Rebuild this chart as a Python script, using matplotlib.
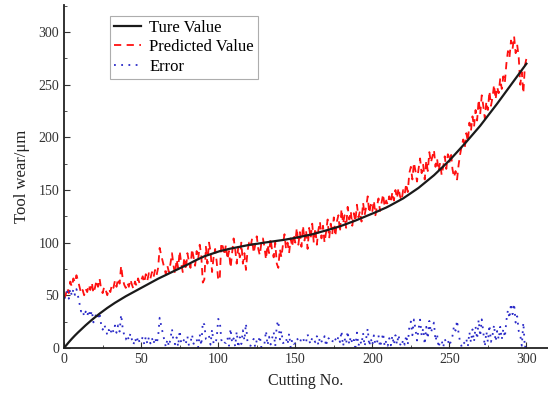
import matplotlib
matplotlib.use("Agg")
import matplotlib.pyplot as plt
from matplotlib.ticker import MultipleLocator
import numpy as np

plt.rcParams['font.family'] = ['Liberation Serif', 'DejaVu Serif']

# cutting number 0..300
cut_no = np.arange(0, 301)

# measured tool wear (um), one value per cut
true_wear = [
    0.0, 1.8, 3.6, 5.3, 7.0, 8.6, 10.2, 11.7, 13.2, 14.6,
    16.0, 17.4, 18.8, 20.2, 21.5, 22.8, 24.1, 25.3, 26.6, 27.8,
    29.0, 30.2, 31.3, 32.5, 33.6, 34.7, 35.8, 36.8, 37.9, 38.9,
    40.0, 41.0, 41.9, 42.8, 43.7, 44.6, 45.5, 46.4, 47.3, 48.1,
    49.0, 49.8, 50.6, 51.4, 52.2, 53.0, 53.8, 54.6, 55.4, 56.2,
    57.0, 57.8, 58.6, 59.4, 60.2, 61.0, 61.8, 62.6, 63.4, 64.2,
    65.0, 65.7, 66.4, 67.1, 67.8, 68.5, 69.2, 69.9, 70.6, 71.3,
    72.0, 72.7, 73.4, 74.1, 74.8, 75.5, 76.2, 76.9, 77.6, 78.3,
    79.0, 79.8, 80.6, 81.4, 82.1, 82.9, 83.6, 84.4, 85.1, 85.8,
    86.5, 87.0, 87.5, 88.0, 88.5, 89.0, 89.5, 90.0, 90.5, 91.0,
    91.5, 91.9, 92.2, 92.6, 92.9, 93.3, 93.6, 94.0, 94.3, 94.7,
    95.0, 95.3, 95.6, 95.8, 96.1, 96.4, 96.7, 97.0, 97.2, 97.5,
    97.8, 98.0, 98.2, 98.5, 98.7, 98.9, 99.1, 99.3, 99.6, 99.8,
    100.0, 100.2, 100.4, 100.6, 100.8, 101.0, 101.2, 101.4, 101.6, 101.8,
    102.0, 102.2, 102.5, 102.7, 103.0, 103.2, 103.5, 103.7, 104.0, 104.2,
    104.5, 104.8, 105.1, 105.4, 105.7, 106.0, 106.3, 106.6, 106.9, 107.2,
    107.5, 107.9, 108.3, 108.7, 109.1, 109.5, 109.9, 110.3, 110.7, 111.1,
    111.5, 111.9, 112.4, 112.8, 113.3, 113.7, 114.2, 114.6, 115.1, 115.5,
    116.0, 116.5, 117.1, 117.6, 118.2, 118.7, 119.3, 119.8, 120.4, 120.9,
    121.5, 122.1, 122.7, 123.3, 123.9, 124.5, 125.1, 125.7, 126.3, 126.9,
    127.5, 128.1, 128.8, 129.4, 130.1, 130.7, 131.4, 132.0, 132.7, 133.3,
    134.0, 134.8, 135.6, 136.4, 137.2, 138.0, 138.8, 139.6, 140.4, 141.2,
    142.0, 143.0, 144.0, 145.0, 146.0, 147.0, 148.0, 149.0, 150.0, 151.0,
    152.0, 153.2, 154.4, 155.6, 156.8, 158.0, 159.2, 160.4, 161.6, 162.8,
    164.0, 165.4, 166.8, 168.2, 169.6, 171.0, 172.4, 173.8, 175.2, 176.6,
    178.0, 179.6, 181.2, 182.8, 184.4, 186.0, 187.6, 189.2, 190.8, 192.4,
    194.0, 195.7, 197.4, 199.1, 200.8, 202.5, 204.2, 205.9, 207.6, 209.3,
    211.0, 212.9, 214.8, 216.7, 218.6, 220.5, 222.4, 224.3, 226.2, 228.1,
    230.0, 232.0, 234.0, 236.0, 238.0, 240.0, 242.0, 244.0, 246.0, 248.0,
    250.0, 252.0, 254.0, 256.0, 258.0, 260.0, 262.0, 264.0, 266.0, 268.0,
    270.0,
]

# model output (um)
pred_wear = [
    47, 50, 57, 52, 63, 58, 66, 62, 69, 64,
    58, 52, 55, 50, 56, 53, 60, 55, 62, 52,
    57, 64, 58, 66, 56, 52, 58, 55, 50, 56,
    53, 60, 57, 64, 58, 66, 61, 78, 66, 60,
    57, 62, 58, 65, 60, 56, 63, 59, 66, 61,
    64, 68, 62, 70, 64, 71, 66, 72, 67, 74,
    69, 76, 95, 88, 82, 76, 70, 78, 72, 80,
    90, 78, 70, 84, 76, 92, 80, 72, 86, 74,
    90, 82, 76, 94, 86, 78, 92, 84, 98, 88,
    62, 65, 96, 80, 100, 92, 72, 86, 94, 82,
    64, 66, 100, 96, 88, 98, 84, 92, 76, 90,
    104, 94, 80, 96, 86, 100, 80, 90, 74, 92,
    100, 96, 104, 90, 98, 106, 94, 88, 100, 104,
    96, 84, 98, 90, 104, 92, 86, 100, 80, 76,
    94, 86, 98, 108, 94, 100, 90, 104, 96, 108,
    100, 114, 98, 110, 96, 116, 102, 112, 94, 114,
    104, 118, 100, 114, 98, 112, 120, 104, 116, 100,
    110, 122, 104, 118, 108, 124, 106, 120, 126, 110,
    132, 118, 126, 114, 134, 122, 130, 116, 128, 120,
    136, 124, 130, 120, 138, 126, 134, 144, 128, 136,
    130, 140, 126, 134, 142, 130, 138, 146, 134, 140,
    136, 144, 138, 148, 140, 150, 142, 152, 144, 140,
    150, 146, 156, 148, 166, 172, 160, 176, 168, 158,
    170, 180, 166, 174, 160, 178, 168, 186, 176, 182,
    188, 172, 180, 168, 176, 164, 172, 182, 170, 184,
    176, 186, 170, 162, 168, 160, 174, 184, 192, 198,
    190, 204, 196, 214, 206, 220, 210, 226, 216, 236,
    222, 240, 230, 218, 234, 226, 244, 230, 238, 250,
    236, 248, 242, 256, 246, 258, 252, 270, 282, 276,
    292, 284, 296, 280, 288, 276, 250, 262, 242, 268,
    275,
]

error = np.abs(np.array(pred_wear) - np.array(true_wear))

fig = plt.figure(figsize=(5.48, 3.98), dpi=100)
ax = fig.add_axes([0.117, 0.126, 0.883, 0.862])

ax.plot(cut_no, true_wear, color='#1a1a1a', lw=1.6, label='Ture Value', zorder=3)
ax.plot(cut_no, pred_wear, color='#ff1010', lw=1.3, ls=(0, (4, 3)), label='Predicted Value')
ax.plot(cut_no, error, color='#2b2bc8', lw=1.3, ls=(0, (1, 3)), label='Error')

ax.set_xlim(0, 314)
ax.set_ylim(0, 326)
ax.xaxis.set_major_locator(MultipleLocator(50))
ax.xaxis.set_minor_locator(MultipleLocator(25))
ax.yaxis.set_major_locator(MultipleLocator(50))
ax.yaxis.set_minor_locator(MultipleLocator(25))
ax.tick_params(which='both', direction='in', colors='#333333', labelsize=10)
ax.tick_params(which='major', length=4)
ax.tick_params(which='minor', length=2.5)

for side in ('top', 'right'):
    ax.spines[side].set_visible(False)
for side in ('left', 'bottom'):
    ax.spines[side].set_linewidth(1.3)
    ax.spines[side].set_color('#222222')

ax.set_xlabel('Cutting No.', fontsize=11.5, color='#222222', labelpad=5)
ax.set_ylabel('Tool wear/μm', fontsize=12, color='#222222', labelpad=6)

leg = ax.legend(loc='upper left', bbox_to_anchor=(0.095, 0.968), fontsize=12,
                frameon=True, fancybox=False, handlelength=1.6, handletextpad=0.5,
                borderpad=0.25, labelspacing=0.2, borderaxespad=0)
leg.get_frame().set_edgecolor('#999999')
leg.get_frame().set_linewidth(0.8)

fig.savefig('out.png', dpi=100)
